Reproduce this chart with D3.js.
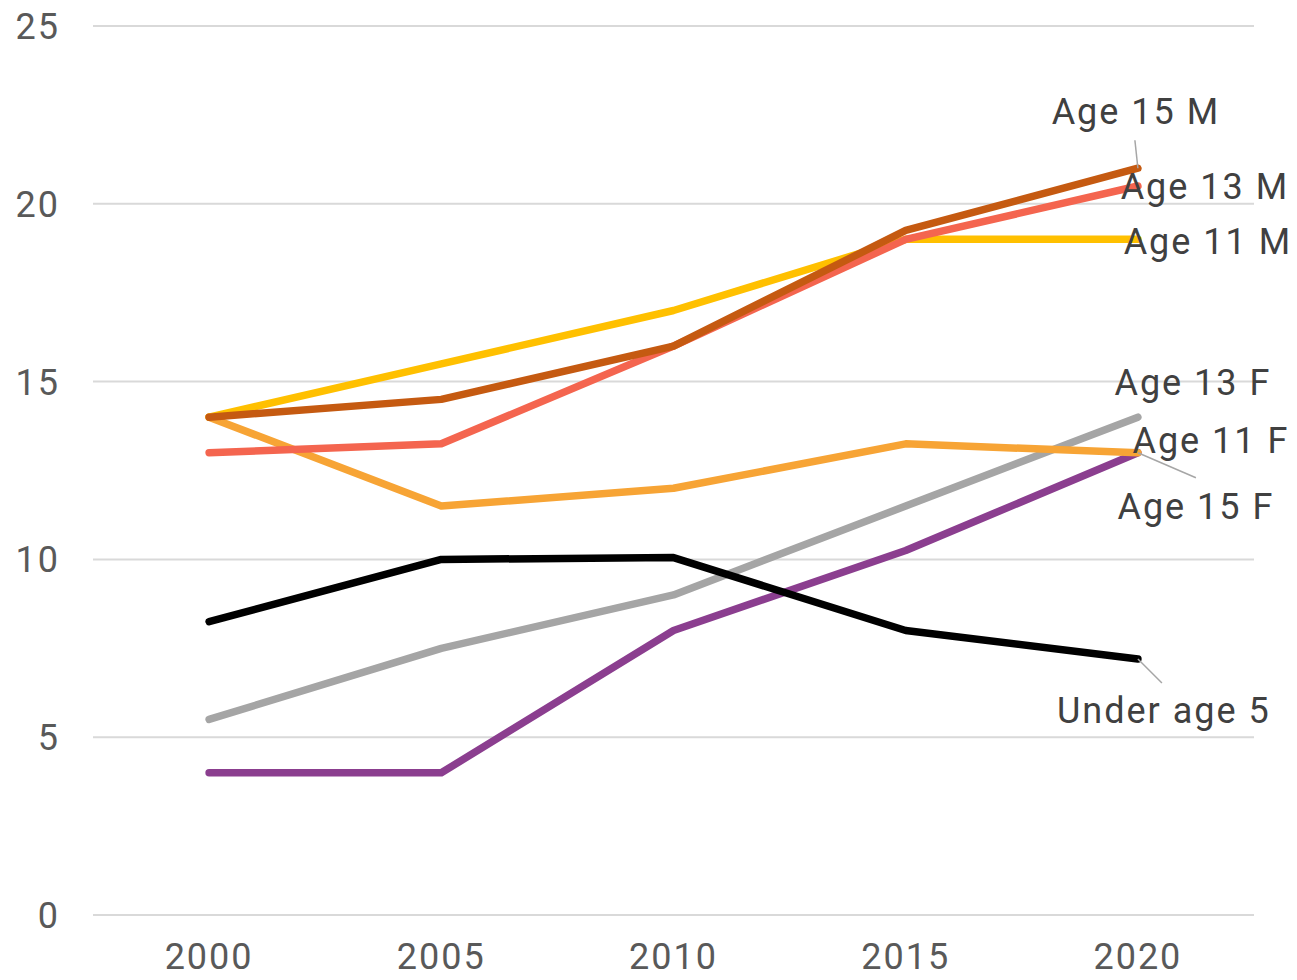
<!DOCTYPE html>
<html>
<head>
<meta charset="utf-8">
<script src="https://cdn.jsdelivr.net/npm/d3@7"></script>
<style>
  body { margin: 0; background: #fff; }
  text { font-family: Roboto, "Noto Sans", sans-serif; letter-spacing: 2px; }
</style>
</head>
<body>
<svg id="chart" width="1297" height="980"></svg>
<script>
// data
var years = ["2000", "2005", "2010", "2015", "2020"];
var yTicks = [0, 5, 10, 15, 20, 25];

var age11M = [14, 15.5, 17, 19, 19];
var age15M = [14, 14.5, 16, 19.25, 21];
var age13M = [13, 13.25, 16, 19, 20.5];
var age15F = [14, 11.5, 12, 13.25, 13];
var age13F = [5.5, 7.5, 9, 11.5, 14];
var age11F = [4, 4, 8, 10.25, 13];
var under5 = [8.25, 10, 10.05, 8, 7.2];

var series = [
  {name: "Age 13 F", values: age13F, color: "#A5A5A5"},
  {name: "Age 11 F", values: age11F, color: "#8B3E8F"},
  {name: "Under age 5", values: under5, color: "#000000"},
  {name: "Age 15 F", values: age15F, color: "#F7A435"},
  {name: "Age 11 M", values: age11M, color: "#FFC000"},
  {name: "Age 13 M", values: age13M, color: "#F4654F"},
  {name: "Age 15 M", values: age15M, color: "#C55A11"}
];

// label positions (px offsets from last point) and leader lines
var labels = [
  {name: "Age 15 M", dx: -2, dy: -57, leader: [[-3, -28], [0, 0]]},
  {name: "Age 13 M", dx: 67, dy: 0, leader: null},
  {name: "Age 11 M", dx: 70, dy: 2, leader: null},
  {name: "Age 13 F", dx: 55, dy: -35, leader: null},
  {name: "Age 11 F", dx: 73, dy: -13, leader: null},
  {name: "Age 15 F", dx: 58, dy: 53, leader: [[0, 0], [58, 25]]},
  {name: "Under age 5", dx: 26, dy: 51, leader: [[0, 0], [24, 24]]}
];

var svg = d3.select("#chart");
var margin = {top: 26, left: 93, right: 43, bottom: 65};
var width = 1297 - margin.left - margin.right,
    height = 980 - margin.top - margin.bottom;

var x = d3.scaleBand()
    .domain(years)
    .range([margin.left, margin.left + width]);

var y = d3.scaleLinear()
    .domain([0, 25])
    .range([margin.top + height, margin.top]);

// gridlines
svg.append("g")
    .selectAll("line")
    .data(yTicks)
    .enter().append("line")
    .attr("x1", margin.left)
    .attr("x2", margin.left + width)
    .attr("y1", function(d){ return y(d); })
    .attr("y2", function(d){ return y(d); })
    .attr("stroke", "#d9d9d9")
    .attr("stroke-width", 2);

// y tick labels
svg.append("g")
    .selectAll("text")
    .data(yTicks)
    .enter().append("text")
    .attr("x", 60)
    .attr("y", function(d){ return y(d); })
    .attr("dy", "0.36em")
    .attr("text-anchor", "end")
    .attr("font-size", 36)
    .attr("fill", "#595959")
    .text(function(d){ return d; });

// x tick labels
svg.append("g")
    .selectAll("text")
    .data(years)
    .enter().append("text")
    .attr("x", function(d){ return x(d) + x.bandwidth() / 2; })
    .attr("y", 969)
    .attr("text-anchor", "middle")
    .attr("font-size", 36)
    .attr("fill", "#595959")
    .text(function(d){ return d; });

var line = d3.line()
    .x(function(d, i){ return x(years[i]) + x.bandwidth() / 2; })
    .y(function(d){ return y(d); });

svg.append("g")
    .selectAll("path")
    .data(series)
    .enter().append("path")
    .attr("d", function(d){ return line(d.values); })
    .attr("fill", "none")
    .attr("stroke", function(d){ return d.color; })
    .attr("stroke-width", 7.5)
    .attr("stroke-linecap", "round")
    .attr("stroke-linejoin", "round");

// data labels
var lastX = x(years[4]) + x.bandwidth() / 2;
function endY(name){
  var s = series.filter(function(d){ return d.name == name; })[0];
  return y(s.values[4]);
}

labels.forEach(function(l){
  var ey = endY(l.name);
  if (l.leader) {
    svg.append("line")
      .attr("x1", lastX + l.leader[0][0])
      .attr("y1", ey + l.leader[0][1])
      .attr("x2", lastX + l.leader[1][0])
      .attr("y2", ey + l.leader[1][1])
      .attr("stroke", "#a6a6a6")
      .attr("stroke-width", 1.5);
  }
  svg.append("text")
    .attr("x", lastX + l.dx)
    .attr("y", ey + l.dy)
    .attr("dy", "0.36em")
    .attr("text-anchor", "middle")
    .attr("font-size", 36)
    .attr("fill", "#404040")
    .text(l.name);
});
</script>
</body>
</html>
